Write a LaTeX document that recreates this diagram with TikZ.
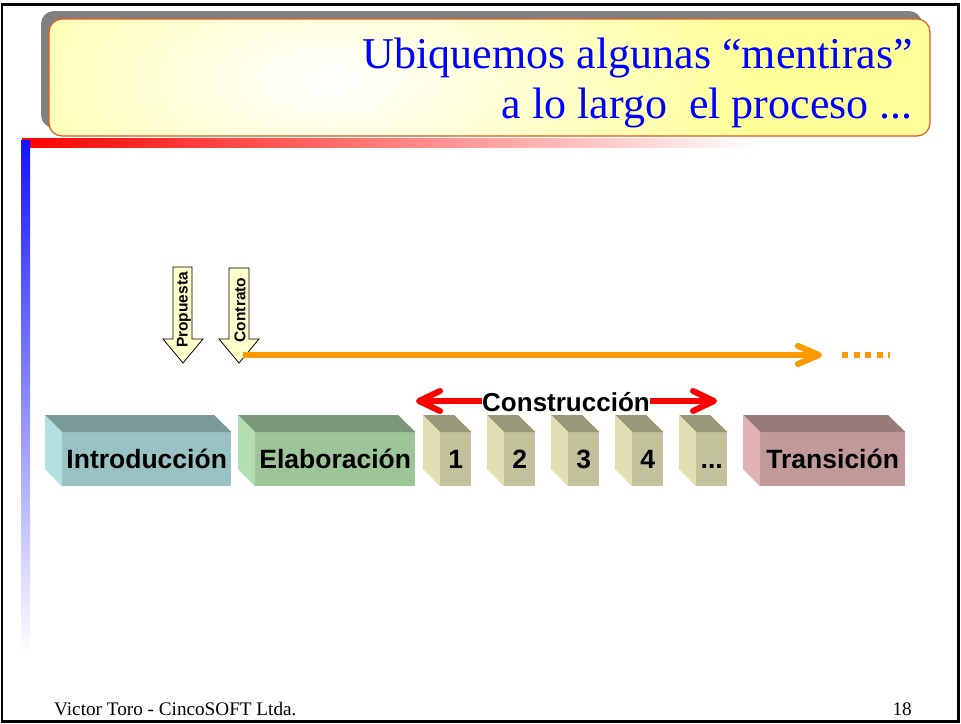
\documentclass[tikz,border=0pt]{standalone}
\usepackage{fontspec}
\setmainfont{Liberation Serif}
\setsansfont{Liberation Sans}
\usetikzlibrary{arrows.meta}

\definecolor{azultitulo}{RGB}{0,0,255}
\definecolor{amarillo}{RGB}{255,255,153}
\definecolor{bordetitulo}{RGB}{224,90,30}
\definecolor{sombra}{RGB}{128,128,128}
\definecolor{rojo}{RGB}{255,0,0}
\definecolor{naranja}{RGB}{255,153,0}
\definecolor{crema}{RGB}{255,255,204}
\definecolor{barraazul}{RGB}{20,20,255}
\definecolor{introfrente}{RGB}{153,194,194}
\definecolor{introtapa}{RGB}{122,153,153}
\definecolor{introlado}{RGB}{179,224,224}
\definecolor{elabfrente}{RGB}{158,196,153}
\definecolor{elabtapa}{RGB}{122,153,122}
\definecolor{elablado}{RGB}{179,224,179}
\definecolor{iterfrente}{RGB}{194,194,156}
\definecolor{itertapa}{RGB}{153,153,122}
\definecolor{iterlado}{RGB}{224,224,179}
\definecolor{transfrente}{RGB}{194,153,153}
\definecolor{transtapa}{RGB}{153,122,122}
\definecolor{translado}{RGB}{224,179,179}

\tikzset{
  cara/.style={inner sep=0pt, minimum height=54pt, anchor=north west,
    text height=18.5pt, text depth=0pt, font=\sffamily\bfseries\fontsize{26.5}{30}\selectfont},
  marca/.style={draw=black, line width=0.8pt, fill=crema, line join=miter},
  marcatexto/.style={rotate=90, inner sep=0pt, font=\sffamily\bfseries\fontsize{15.5}{18}\selectfont},
  avance/.style={draw=naranja, line width=6pt,
    -{Straight Barb[length=21pt, width=18pt, line cap=round, line join=round]}},
  suspensivo/.style={draw=naranja, line width=6pt, dash pattern=on 6pt off 5.5pt},
  construye/.style={draw=rojo, line width=6pt,
    {Straight Barb[length=21pt, width=20pt, line cap=round, line join=round]}-{Straight Barb[length=21pt, width=20pt, line cap=round, line join=round]}}
}

\newcommand{\bloque}[7]{%
  \node [cara, fill=#4, minimum width=#3pt] (#1) at (#2,432) {#7};
  \fill [#5] (#1.north west) -- ++(-17,-17) -- ++(#3,0) -- (#1.north east) -- cycle;
  \fill [#6] (#1.north west) -- ++(-17,-17) -- ++(0,54) -- (#1.south west) -- cycle;
}

\begin{document}
\begin{tikzpicture}[x=1pt, y=-1pt]
\useasboundingbox (0,0) rectangle (961,723);
\fill [white] (0,0) rectangle (961,723);
\draw [line width=2.5pt] (2,4.5) rectangle (958.5,721.5);

\fill [sombra, rounded corners=13pt] (41,11) rectangle (922,128);
\begin{scope}
\clip [rounded corners=13pt] (49,19) rectangle (930,136);
\fill [amarillo] (49,19) rectangle (930,136);
\shade [inner color=white, outer color=amarillo] (330,80) ellipse [x radius=430pt, y radius=200pt];
\end{scope}
\draw [bordetitulo, line width=1.2pt, rounded corners=13pt] (49,19) rectangle (930,136);
\node [anchor=base east, azultitulo, inner sep=0pt, font=\fontsize{44}{49}\selectfont] (titulo1) at (913,68) {Ubiquemos algunas “mentiras”};
\node [anchor=base east, azultitulo, inner sep=0pt, font=\fontsize{44}{49}\selectfont] (titulo2) at (913,118) {a lo largo\ \ el proceso ...};

\shade [left color=rojo, right color=white] (22,138) rectangle (760,147);
\shade [top color=barraazul, bottom color=white] (21,140) rectangle (30,655);

\draw [marca] (173,267) -- (192,267) -- (192,339) -- (203,339) -- (183,363) -- (163,339) -- (173,339) -- cycle;
\node [marcatexto] (propuesta) at (184,310) {Propuesta};
\draw [marca] (229,268) -- (249,268) -- (249,339) -- (259,339) -- (239,363) -- (219,339) -- (229,339) -- cycle;
\node [marcatexto] (contrato) at (240,310) {Contrato};

\coordinate (inicio) at (243,355);
\coordinate (fin) at (822,355);
\draw [avance] (inicio) -- (fin);
\coordinate (puntos) at (842,355);
\coordinate (final) at (890,355);
\draw [suspensivo] (puntos) -- (final);

\bloque{intro}{62}{169}{introfrente}{introtapa}{introlado}{Introducción}
\bloque{elab}{255}{160}{elabfrente}{elabtapa}{elablado}{Elaboración}
\bloque{it1}{440}{31}{iterfrente}{itertapa}{iterlado}{1}
\bloque{it2}{504}{31}{iterfrente}{itertapa}{iterlado}{2}
\bloque{it3}{568}{31}{iterfrente}{itertapa}{iterlado}{3}
\bloque{it4}{632}{31}{iterfrente}{itertapa}{iterlado}{4}
\bloque{it5}{696}{31}{iterfrente}{itertapa}{iterlado}{...}
\bloque{trans}{760}{145}{transfrente}{transtapa}{translado}{Transición}

\coordinate (cizq) at (416,401);
\coordinate (cder) at (717,401);
\draw [construye] (cizq) -- (cder);
\node [anchor=base, fill=white, inner sep=0pt, font=\sffamily\bfseries\fontsize{26}{30}\selectfont] (construccion) at (566,411) {Construcción};

\node [anchor=base west, inner sep=0pt, font=\fontsize{19.2}{22}\selectfont] (autor) at (54,715) {Victor Toro - CincoSOFT Ltda.};
\node [anchor=base east, inner sep=0pt, font=\fontsize{19.2}{22}\selectfont] (pagina) at (912,715) {18};
\end{tikzpicture}
\end{document}
